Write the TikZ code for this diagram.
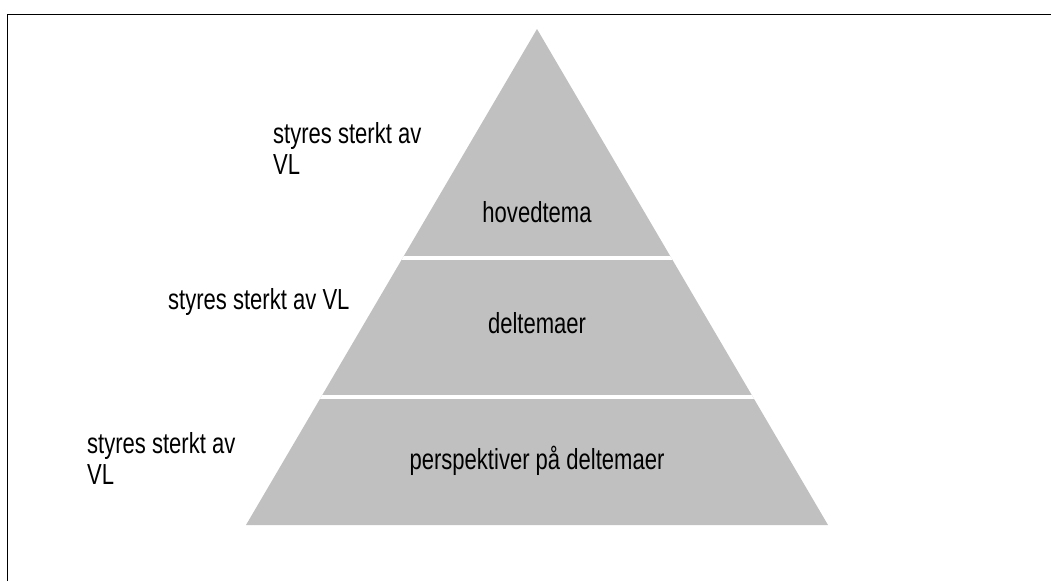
\documentclass[tikz,border=0pt]{standalone}
\usepackage{fontspec}
\setmainfont{Liberation Sans}
\newfontfamily\narrowsans[FakeStretch=0.76]{Liberation Sans}
\begin{document}
\begin{tikzpicture}[x=1pt,y=-1pt,
  lbl/.style={inner sep=0pt,anchor=base west,align=left,font=\narrowsans\fontsize{29}{31}\selectfont},
  lvl/.style={inner sep=0pt,font=\narrowsans\fontsize{29}{31}\selectfont},
  gap/.style={draw=white,line width=4pt},
  frame/.style={draw=black,line width=1.8pt}]
\useasboundingbox (0,0) rectangle (1051,581);
\fill[white] (0,0) rectangle (1051,581);
% outer frame (only its top and left edges fall inside the page)
\draw[frame] (7.5,581) -- (7.5,14.5) -- (1051,14.5);
% pyramid corners
\coordinate (apex) at (537,29);
\coordinate (bl) at (246,525);
\coordinate (br) at (828,525);
\fill[fill={rgb,255:red,192;green,192;blue,192}] (apex) -- (br) -- (bl) -- cycle;
% white separators between the three levels
\coordinate (s1l) at (380,258);
\coordinate (s1r) at (700,258);
\coordinate (s2l) at (290,397);
\coordinate (s2r) at (790,397);
\begin{scope}
  \clip (apex) -- (br) -- (bl) -- cycle;
  \draw[gap] (s1l) -- (s1r);
  \draw[gap] (s2l) -- (s2r);
\end{scope}
% level texts
\node[lvl] (top) at (537,212) {hovedtema};
\node[lvl] (mid) at (537,323) {deltemaer};
\node[lvl] (bot) at (537,461) {perspektiver på deltemaer};
% side notes (base anchor sits on the last line)
\node[lbl] (n1) at (273,174) {styres sterkt av\\VL};
\node[lbl] (n2) at (168,309) {styres sterkt av VL};
\node[lbl] (n3) at (87,484) {styres sterkt av\\VL};
\end{tikzpicture}
\end{document}
